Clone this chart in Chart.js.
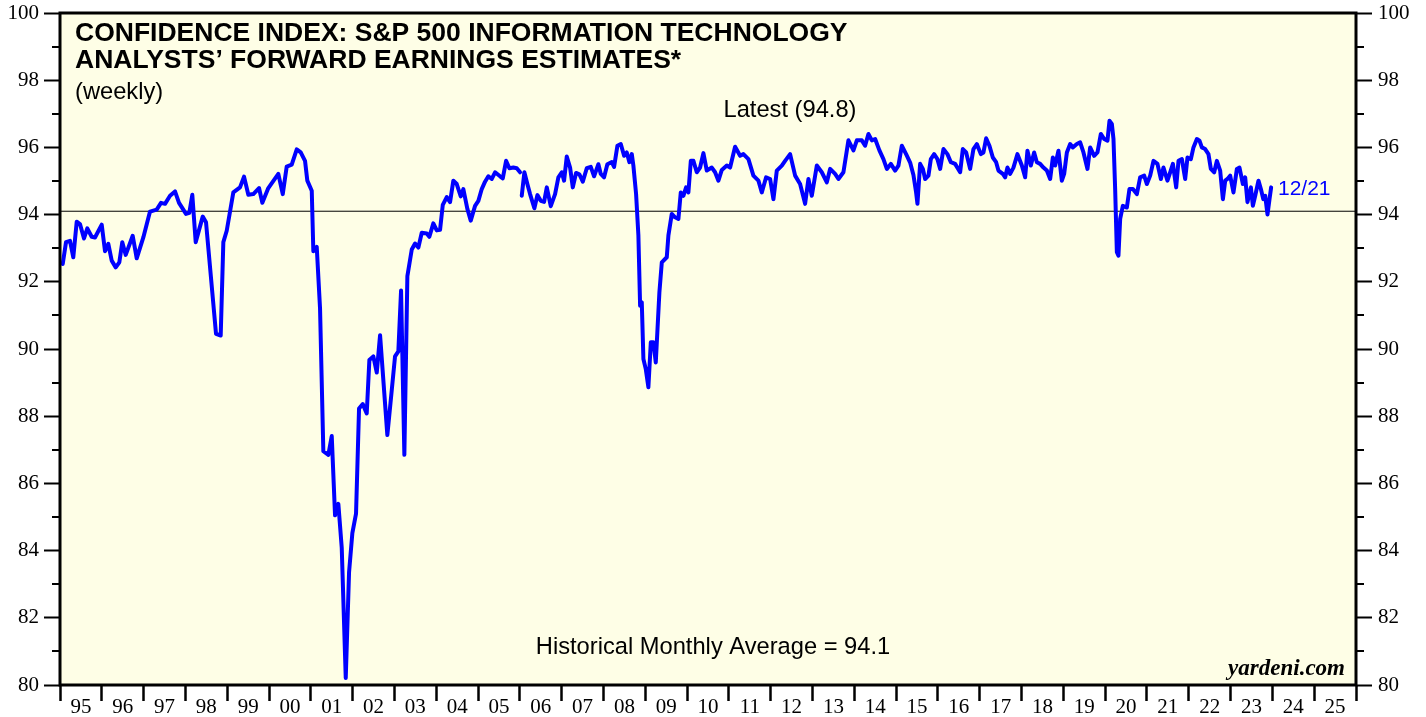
<!DOCTYPE html>
<html lang="en">
<head>
    <meta charset="UTF-8">
    <title>Confidence Index: S&P 500 Information Technology</title>
    <script src="https://cdn.jsdelivr.net/npm/chart.js"></script>
    <style>
        body {
            margin: 0;
            padding: 0;
            background-color: #fff;
        }
        .chart-container {
            width: 1426px;
            height: 717px;
        }
    </style>
</head>
<body>
    <div class="chart-container">
        <canvas id="confChart"></canvas>
    </div>

    <script>
        // Weekly readings (decimal year, index value); null = break in the series
        const years = [
            1995.065, 1995.144, 1995.239, 1995.318, 1995.400, 1995.478, 1995.574, 1995.653, 1995.758, 1995.837,
            1995.998, 1996.077, 1996.156, 1996.237, 1996.333, 1996.419, 1996.490, 1996.572, 1996.739, 1996.835,
            1996.993, 1997.153, 1997.313, 1997.416, 1997.512, 1997.632, 1997.751, 1997.847, 1998.014, 1998.093,
            1998.165, 1998.246, 1998.414, 1998.493, 1998.732, 1998.844, 1998.907, 1998.988, 1999.146, 1999.306,
            1999.402, 1999.505, 1999.624, 1999.761, 1999.840, 1999.983, 2000.222, 2000.328, 2000.423, 2000.543,
            2000.663, 2000.758, 2000.861, 2000.916, 2001.022, 2001.060, 2001.141, 2001.220, 2001.299, 2001.419,
            2001.500, 2001.579, 2001.658, 2001.739, 2001.835, 2001.914, 2001.993, 2002.081, 2002.153, 2002.242,
            2002.337, 2002.400, 2002.495, 2002.577, 2002.656, 2002.830, 2002.935, 2003.014, 2003.093, 2003.158,
            2003.237, 2003.309, 2003.414, 2003.493, 2003.572, 2003.653, 2003.773, 2003.835, 2003.930, 2004.012,
            2004.091, 2004.156, 2004.251, 2004.330, 2004.409, 2004.490, 2004.586, 2004.648, 2004.744, 2004.825,
            2004.928, 2005.007, 2005.088, 2005.167, 2005.246, 2005.328, 2005.407, 2005.526, 2005.591, 2005.670,
            2005.749, 2005.844, 2005.926, 2006.005, 2006.025, 2006.045, 2006.108, 2006.179, 2006.244, 2006.347,
            2006.419, 2006.500, 2006.579, 2006.644, 2006.739, 2006.842, 2006.921, 2007.002, 2007.057, 2007.122,
            2007.201, 2007.266, 2007.344, 2007.423, 2007.505, 2007.600, 2007.696, 2007.775, 2007.878, 2007.935,
            2008.014, 2008.093, 2008.198, 2008.254, 2008.333, 2008.414, 2008.493, 2008.557, 2008.620, 2008.677,
            2008.715, 2008.780, 2008.835, 2008.876, 2008.916, 2008.955, 2009.012, 2009.074, 2009.132, 2009.194,
            2009.251, 2009.337, 2009.395, 2009.514, 2009.553, 2009.634, 2009.713, 2009.792, 2009.849, 2009.911,
            2009.976, 2010.031, 2010.089, 2010.151, 2010.232, 2010.311, 2010.390, 2010.471, 2010.591, 2010.670,
            2010.749, 2010.830, 2010.950, 2011.029, 2011.148, 2011.268, 2011.347, 2011.467, 2011.586, 2011.706,
            2011.787, 2011.890, 2011.986, 2012.065, 2012.146, 2012.266, 2012.344, 2012.464, 2012.584, 2012.703,
            2012.823, 2012.902, 2012.983, 2013.103, 2013.222, 2013.342, 2013.421, 2013.541, 2013.620, 2013.739,
            2013.859, 2013.979, 2014.060, 2014.179, 2014.258, 2014.337, 2014.419, 2014.498, 2014.600, 2014.696,
            2014.778, 2014.873, 2014.976, 2015.055, 2015.136, 2015.239, 2015.335, 2015.414, 2015.478, 2015.510,
            2015.574, 2015.639, 2015.694, 2015.773, 2015.830, 2015.909, 2015.988, 2016.053, 2016.132, 2016.227,
            2016.309, 2016.411, 2016.531, 2016.596, 2016.675, 2016.770, 2016.849, 2016.931, 2017.026, 2017.089,
            2017.153, 2017.232, 2017.313, 2017.392, 2017.447, 2017.552, 2017.608, 2017.663, 2017.727, 2017.806,
            2017.902, 2018.007, 2018.086, 2018.141, 2018.222, 2018.301, 2018.366, 2018.445, 2018.524, 2018.605,
            2018.684, 2018.749, 2018.804, 2018.883, 2018.964, 2019.019, 2019.084, 2019.163, 2019.227, 2019.323,
            2019.402, 2019.481, 2019.577, 2019.641, 2019.737, 2019.816, 2019.897, 2019.976, 2020.055, 2020.103,
            2020.160, 2020.199, 2020.239, 2020.280, 2020.318, 2020.359, 2020.423, 2020.519, 2020.581, 2020.663,
            2020.758, 2020.837, 2020.933, 2020.998, 2021.077, 2021.156, 2021.251, 2021.333, 2021.395, 2021.490,
            2021.555, 2021.620, 2021.699, 2021.754, 2021.835, 2021.914, 2021.969, 2022.050, 2022.112, 2022.194,
            2022.256, 2022.313, 2022.392, 2022.471, 2022.528, 2022.608, 2022.672, 2022.751, 2022.816, 2022.871,
            2022.926, 2022.990, 2023.069, 2023.151, 2023.213, 2023.294, 2023.349, 2023.404, 2023.486, 2023.533,
            2023.589, 2023.667, 2023.725, 2023.782, 2023.828, 2023.883, 2023.931, 2023.970
        ];
        const values = [
            92.53, 93.18, 93.22, 92.73, 93.79, 93.72, 93.29, 93.59, 93.34, 93.32,
            93.70, 92.91, 93.13, 92.63, 92.43, 92.58, 93.18, 92.80, 93.37, 92.70,
            93.32, 94.09, 94.15, 94.35, 94.32, 94.56, 94.69, 94.35, 94.02, 94.05,
            94.59, 93.18, 93.94, 93.77, 90.45, 90.40, 93.18, 93.52, 94.66, 94.81,
            95.13, 94.59, 94.61, 94.79, 94.35, 94.79, 95.21, 94.61, 95.43, 95.49,
            95.94, 95.85, 95.60, 95.01, 94.71, 92.91, 93.04, 91.21, 86.96, 86.85,
            87.41, 85.05, 85.39, 84.09, 80.21, 83.35, 84.52, 85.10, 88.23, 88.36,
            88.08, 89.67, 89.78, 89.30, 90.41, 87.44, 88.77, 89.78, 89.93, 91.74,
            86.85, 92.17, 92.96, 93.14, 93.02, 93.46, 93.44, 93.34, 93.74, 93.53,
            93.55, 94.29, 94.52, 94.37, 95.01, 94.91, 94.54, 94.76, 94.17, 93.82,
            94.26, 94.41, 94.76, 94.98, 95.14, 95.06, 95.26, 95.14, 95.08, 95.60,
            95.38, 95.40, 95.38, 95.26, null, 94.56, 95.26, 94.91, 94.61, 94.19,
            94.58, 94.41, 94.38, 94.81, 94.25, 94.61, 95.11, 95.26, 95.01, 95.73,
            95.40, 94.81, 95.24, 95.20, 94.98, 95.38, 95.42, 95.14, 95.50, 95.21,
            95.11, 95.50, 95.56, 95.42, 96.05, 96.10, 95.75, 95.85, 95.56, 95.80,
            95.46, 94.61, 93.38, 91.29, 91.39, 89.70, 89.40, 88.86, 90.20, 90.20,
            89.60, 91.68, 92.58, 92.73, 93.38, 94.02, 93.92, 93.87, 94.66, 94.56,
            94.81, 94.66, 95.60, 95.60, 95.26, 95.40, 95.83, 95.31, 95.40, 95.26,
            95.01, 95.33, 95.46, 95.40, 96.02, 95.75, 95.80, 95.65, 95.16, 95.01,
            94.66, 95.11, 95.06, 94.46, 95.31, 95.46, 95.60, 95.80, 95.16, 94.91,
            94.32, 95.06, 94.56, 95.46, 95.26, 94.96, 95.36, 95.21, 95.06, 95.26,
            96.21, 95.91, 96.21, 96.21, 96.05, 96.40, 96.21, 96.25, 95.91, 95.65,
            95.36, 95.51, 95.31, 95.46, 96.05, 95.80, 95.55, 95.18, 94.66, 94.32,
            95.51, 95.36, 95.06, 95.16, 95.65, 95.80, 95.65, 95.36, 95.95, 95.80,
            95.56, 95.51, 95.26, 95.95, 95.85, 95.36, 95.95, 96.10, 95.80, 95.85,
            96.27, 96.05, 95.70, 95.56, 95.31, 95.21, 95.11, 95.40, 95.21, 95.40,
            95.80, 95.46, 95.11, 95.90, 95.46, 95.85, 95.56, 95.51, 95.40, 95.31,
            95.06, 95.70, 95.46, 95.90, 95.01, 95.21, 95.85, 96.10, 96.00, 96.10,
            96.15, 95.85, 95.36, 96.00, 95.75, 95.85, 96.40, 96.25, 96.20, 96.79,
            96.70, 96.25, 94.76, 92.88, 92.78, 93.87, 94.26, 94.21, 94.76, 94.76,
            94.61, 95.11, 95.16, 94.91, 95.16, 95.60, 95.51, 95.06, 95.40, 95.01,
            95.26, 95.51, 94.81, 95.60, 95.65, 95.06, 95.70, 95.65, 96.00, 96.25,
            96.20, 96.00, 95.95, 95.80, 95.36, 95.26, 95.60, 95.31, 94.46, 95.01,
            95.06, 95.16, 94.66, 95.36, 95.40, 94.91, 95.11, 94.37, 94.81, 94.26,
            94.56, 95.01, 94.76, 94.46, 94.56, 94.00, 94.46, 94.81
        ];

        // Historical monthly average line
        const avgYears = [1995, 2026];
        const avgValues = [94.1, 94.1];

        // Axis ticks
        const yMin = 80, yMax = 100, yStep = 2;
        const yMinorTicks = [81, 83, 85, 87, 89, 91, 93, 95, 97, 99];
        const xMin = 1995, xMax = 2026;

        const latestLabel = 'Latest (94.8)';
        const avgLabel = 'Historical Monthly Average = 94.1';
        const lastDateLabel = '12/21';

        const serif = '"Liberation Serif", "Times New Roman", serif';
        const sans = '"Liberation Sans", Arial, sans-serif';

        // Background, frame, minor ticks and annotations
        const decorPlugin = {
            id: 'decor',
            beforeDraw(chart) {
                const { ctx, chartArea: a } = chart;
                ctx.save();
                ctx.fillStyle = '#ffffff';
                ctx.fillRect(0, 0, chart.width, chart.height);
                ctx.fillStyle = '#fefee6';
                ctx.fillRect(a.left, a.top, a.right - a.left, a.bottom - a.top);
                ctx.restore();
            },
            afterDraw(chart) {
                const { ctx, chartArea: a } = chart;
                const y = chart.scales.y;
                ctx.save();
                // minor ticks on both sides
                ctx.strokeStyle = '#000';
                ctx.lineWidth = 2;
                yMinorTicks.forEach(v => {
                    const py = Math.round(y.getPixelForValue(v));
                    ctx.beginPath();
                    ctx.moveTo(a.left - 8, py);
                    ctx.lineTo(a.left, py);
                    ctx.moveTo(a.right, py);
                    ctx.lineTo(a.right + 8, py);
                    ctx.stroke();
                });
                // frame
                ctx.lineWidth = 3;
                ctx.strokeRect(a.left, a.top, a.right - a.left, a.bottom - a.top);

                // titles
                ctx.fillStyle = '#000';
                ctx.textBaseline = 'middle';
                ctx.textAlign = 'left';
                ctx.font = 'bold 26.5px ' + sans;
                ctx.fillText('CONFIDENCE INDEX: S&P 500 INFORMATION TECHNOLOGY', 75, 34);
                ctx.fillText('ANALYSTS\u2019 FORWARD EARNINGS ESTIMATES*', 75, 61);
                ctx.font = '23.7px ' + sans;
                ctx.fillText('(weekly)', 75, 92);

                ctx.textAlign = 'center';
                ctx.fillText(latestLabel, 790, 110);
                ctx.fillText(avgLabel, 713, 647);

                ctx.textAlign = 'right';
                ctx.font = 'italic bold 23px ' + serif;
                ctx.fillText('yardeni.com', 1345, 669);

                ctx.textAlign = 'left';
                ctx.fillStyle = '#0000ff';
                ctx.font = '21px ' + sans;
                ctx.fillText(lastDateLabel, 1278, 189);
                ctx.restore();
            }
        };

        const yTickFont = { family: serif, size: 21 };

        function noPadY(scale, w) {
            scale.width = w;
            scale.paddingTop = 0;
            scale.paddingBottom = 0;
        }

        const ctx = document.getElementById('confChart').getContext('2d');
        const confChart = new Chart(ctx, {
            type: 'line',
            data: {
                datasets: [{
                    label: 'Confidence Index',
                    data: years.map((x, i) => ({ x: x, y: values[i] })),
                    borderColor: '#0000ff',
                    borderWidth: 4,
                    pointRadius: 0,
                    tension: 0,
                    spanGaps: false,
                    borderJoinStyle: 'round',
                    borderCapStyle: 'round',
                    order: 0
                }, {
                    label: 'Historical Monthly Average',
                    data: avgYears.map((x, i) => ({ x: x, y: avgValues[i] })),
                    borderColor: '#000000',
                    borderWidth: 1,
                    pointRadius: 0,
                    order: 1
                }]
            },
            options: {
                responsive: true,
                maintainAspectRatio: false,
                animation: false,
                layout: { padding: { top: 13, left: 0, right: 0, bottom: 0 } },
                plugins: {
                    legend: { display: false },
                    tooltip: { enabled: false }
                },
                scales: {
                    x: {
                        type: 'linear',
                        min: xMin,
                        max: xMax,
                        afterFit(scale) {
                            scale.height = 32;
                            scale.paddingLeft = 0;
                            scale.paddingRight = 0;
                        },
                        border: { display: false },
                        grid: {
                            drawOnChartArea: false,
                            drawTicks: true,
                            tickLength: 16,
                            tickWidth: 2.5,
                            tickColor: '#000'
                        },
                        ticks: {
                            stepSize: 1,
                            autoSkip: false,
                            maxRotation: 0,
                            labelOffset: 20.9,
                            padding: -6,
                            color: '#000',
                            font: { family: serif, size: 21 },
                            callback: v => v >= xMax ? '' : String(v % 100).padStart(2, '0')
                        }
                    },
                    y: {
                        position: 'left',
                        min: yMin,
                        max: yMax,
                        afterFit(scale) { noPadY(scale, 60); },
                        border: { display: false },
                        grid: {
                            drawOnChartArea: false,
                            tickLength: 16,
                            tickWidth: 2,
                            tickColor: '#000'
                        },
                        ticks: { stepSize: yStep, padding: 5, color: '#000', font: yTickFont }
                    },
                    y2: {
                        position: 'right',
                        min: yMin,
                        max: yMax,
                        afterFit(scale) { noPadY(scale, 70); },
                        border: { display: false },
                        grid: {
                            drawOnChartArea: false,
                            tickLength: 16,
                            tickWidth: 2,
                            tickColor: '#000'
                        },
                        ticks: { stepSize: yStep, padding: 6, color: '#000', font: yTickFont }
                    }
                }
            },
            plugins: [decorPlugin]
        });
    </script>
</body>
</html>
